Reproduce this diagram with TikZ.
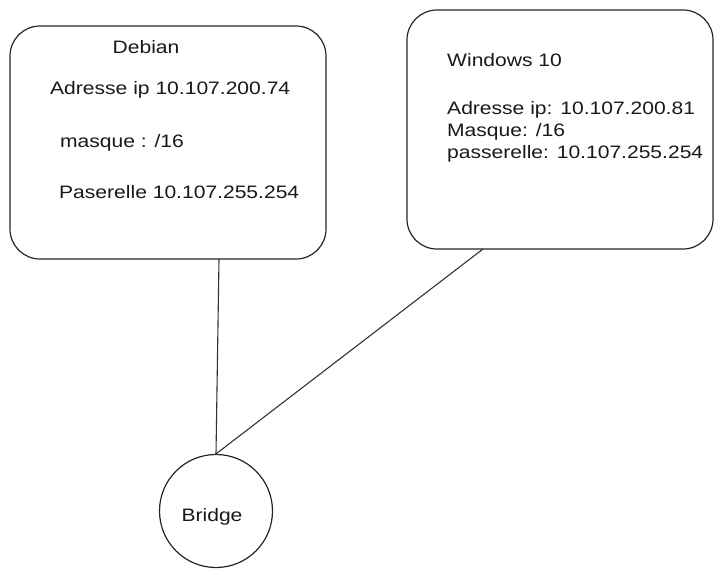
\documentclass[tikz,border=0pt]{standalone}
\usepackage{fontspec}
\usepackage{graphicx}
\setmainfont{Liberation Sans}
\newcommand{\hwtext}[1]{\scalebox{1.17}[1]{#1}}
\begin{document}
\begin{tikzpicture}[x=1pt,y=-1pt,
  box/.style={draw=black!85, line width=1.2pt, rounded corners=30pt},
  lbl/.style={anchor=west, inner sep=0pt, font=\fontsize{18}{22}\selectfont, text=black!90},
  link/.style={draw=black!80, line width=1.1pt}]
\useasboundingbox[fill=white] (0,0) rectangle (721,574);
\draw[box] (10,26) rectangle (326,259);
\coordinate (deb) at (219,259);
\draw[box] (407,10) rectangle (713,249);
\coordinate (win) at (483,249);
\node[draw=black!85, line width=1.2pt, circle, minimum size=113pt, inner sep=0pt] (br) at (216,511) {};
\node[lbl, anchor=center] (bt) at (212,517) {\hwtext{Bridge}};
\node[lbl, anchor=center] (t1) at (146,47) {\hwtext{Debian}};
\node[lbl] (t2) at (50,90) {\hwtext{Adresse ip 10.107.200.74}};
\node[lbl] (t3) at (60,143) {\hwtext{masque : /16}};
\node[lbl] (t4) at (59,192) {\hwtext{Paserelle 10.107.255.254}};
\node[lbl] (w1) at (447,60) {\hwtext{Windows 10}};
\node[lbl] (w2) at (447,110) {\hwtext{Adresse ip: 10.107.200.81}};
\node[lbl] (w3) at (447,132) {\hwtext{Masque: /16}};
\node[lbl] (w4) at (447,154) {\hwtext{passerelle: 10.107.255.254}};
\draw[link] (deb) -- (br.north);
\draw[link] (win) -- (br.north);
\end{tikzpicture}
\end{document}
